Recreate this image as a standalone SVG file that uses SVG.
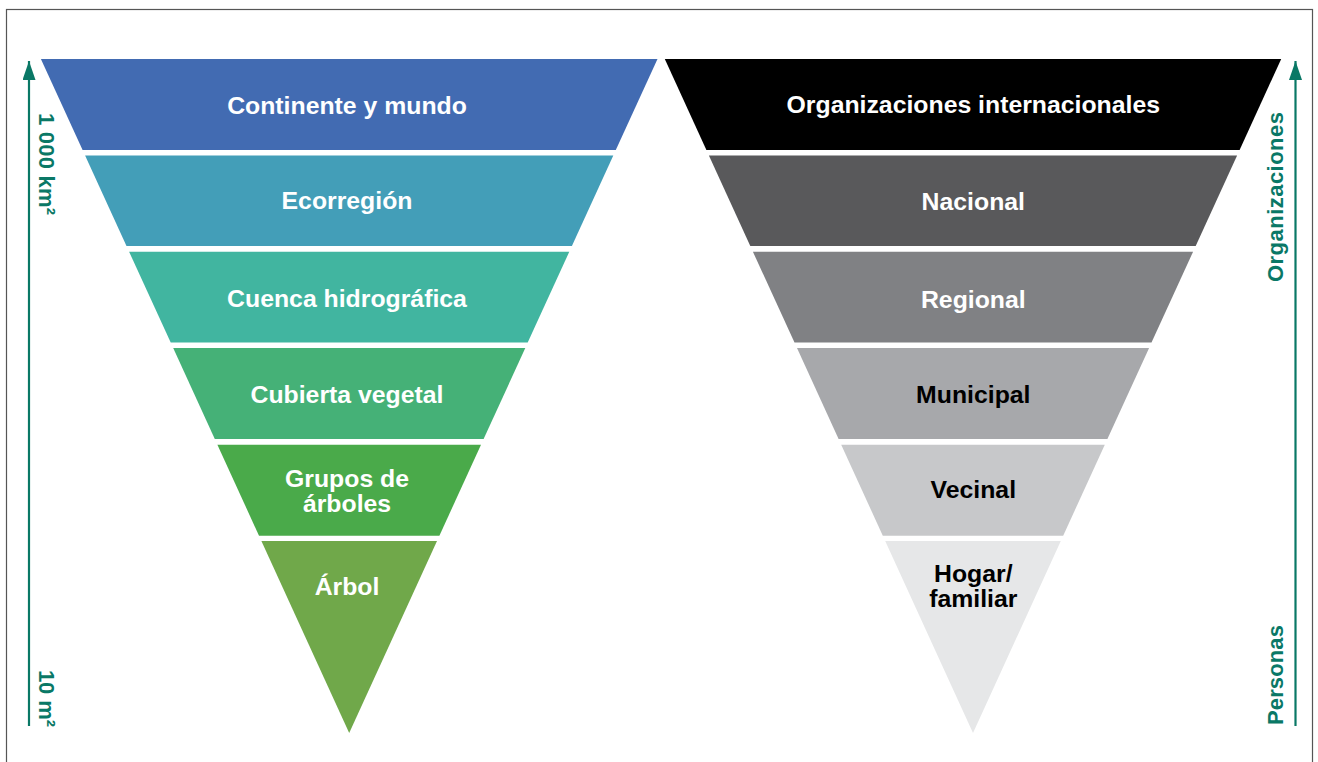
<svg xmlns="http://www.w3.org/2000/svg" width="1318" height="762" viewBox="0 0 1318 762">
<style>
.lbl{font-family:"Liberation Sans",Arial,Helvetica,sans-serif;font-weight:bold;font-size:24.8px;text-anchor:middle}
.w{fill:#FFFFFF}
.k{fill:#000000}
.ax{font-family:"Liberation Sans",Arial,Helvetica,sans-serif;font-weight:bold;font-size:22px;fill:#0A7866}
.axl{stroke:#0A7866;stroke-width:2.2;fill:none}
</style>
<defs>
<marker id="ah" viewBox="0 0 19 13" refX="19" refY="6.5" markerWidth="19" markerHeight="13" markerUnits="userSpaceOnUse" orient="auto">
<path d="M0,0 L19,6.5 L0,13 Z" fill="#0A7866"/>
</marker>
</defs>
<rect x="0" y="0" width="1318" height="762" fill="#FFFFFF"/>
<rect x="6.5" y="9.5" width="1306" height="800" fill="none" stroke="#555555" stroke-width="1.2"/>

<g id="left-pyramid">
<g id="l1"><polygon points="40.9,59 657.5,59 615.8,150 82.6,150" fill="#426BB2"/><text class="lbl w" x="347" y="114">Continente y mundo</text></g>
<g id="l2"><polygon points="85.1,155.4 613.3,155.4 571.9,246 126.5,246" fill="#439EB8"/><text class="lbl w" x="347" y="209.3">Ecorregión</text></g>
<g id="l3"><polygon points="129.1,251.7 569.3,251.7 527.7,342.6 170.7,342.6" fill="#41B5A0"/><text class="lbl w" x="347" y="306.7">Cuenca hidrográfica</text></g>
<g id="l4"><polygon points="173.2,348 525.3,348 483.6,439 214.8,439" fill="#45B177"/><text class="lbl w" x="347" y="403.3">Cubierta vegetal</text></g>
<g id="l5"><polygon points="217.4,444.7 481,444.7 439.4,535.7 259,535.7" fill="#4AAA4A"/><text class="lbl w" x="347" y="486.7"><tspan x="347">Grupos de</tspan><tspan x="347" dy="25">árboles</tspan></text></g>
<g id="l6"><polygon points="261.4,541 437,541 349.2,733" fill="#70A84A"/><text class="lbl w" x="347" y="595">Árbol</text></g>
</g>

<g id="right-pyramid">
<g id="r1"><polygon points="664.8,59 1281.2,59 1239.6,150 706.4,150" fill="#000000"/><text class="lbl w" x="973.3" y="113.3">Organizaciones internacionales</text></g>
<g id="r2"><polygon points="708.9,155.4 1237.1,155.4 1195.7,246 750.3,246" fill="#59595B"/><text class="lbl w" x="973.3" y="210">Nacional</text></g>
<g id="r3"><polygon points="752.9,251.7 1193.1,251.7 1151.5,342.6 794.5,342.6" fill="#808184"/><text class="lbl w" x="973.3" y="307.7">Regional</text></g>
<g id="r4"><polygon points="797,348 1149.1,348 1107.4,439 838.6,439" fill="#A7A8AB"/><text class="lbl k" x="973.3" y="403.3">Municipal</text></g>
<g id="r5"><polygon points="841.2,444.7 1104.8,444.7 1063.2,535.7 882.8,535.7" fill="#C7C8CA"/><text class="lbl k" x="973.3" y="498.3">Vecinal</text></g>
<g id="r6"><polygon points="885.2,541 1060.8,541 973,733" fill="#E6E7E8"/><text class="lbl k" x="973.3" y="582.2"><tspan x="973.3">Hogar/</tspan><tspan x="973.3" dy="25">familiar</tspan></text></g>
</g>

<g id="connectors">
<line class="axl" x1="29" y1="726" x2="29" y2="61" marker-end="url(#ah)"/>
<line class="axl" x1="1295.5" y1="726" x2="1295.5" y2="61" marker-end="url(#ah)"/>
</g>

<g id="axis-labels">
<text class="ax" transform="translate(38.5,113) rotate(90)" textLength="102" lengthAdjust="spacing">1 000 km²</text>
<text class="ax" transform="translate(38.5,670) rotate(90)" textLength="57" lengthAdjust="spacing">10 m²</text>
<text class="ax" transform="translate(1282.5,282) rotate(-90)" textLength="170" lengthAdjust="spacing">Organizaciones</text>
<text class="ax" transform="translate(1282.5,725) rotate(-90)" textLength="100" lengthAdjust="spacing">Personas</text>
</g>
</svg>
